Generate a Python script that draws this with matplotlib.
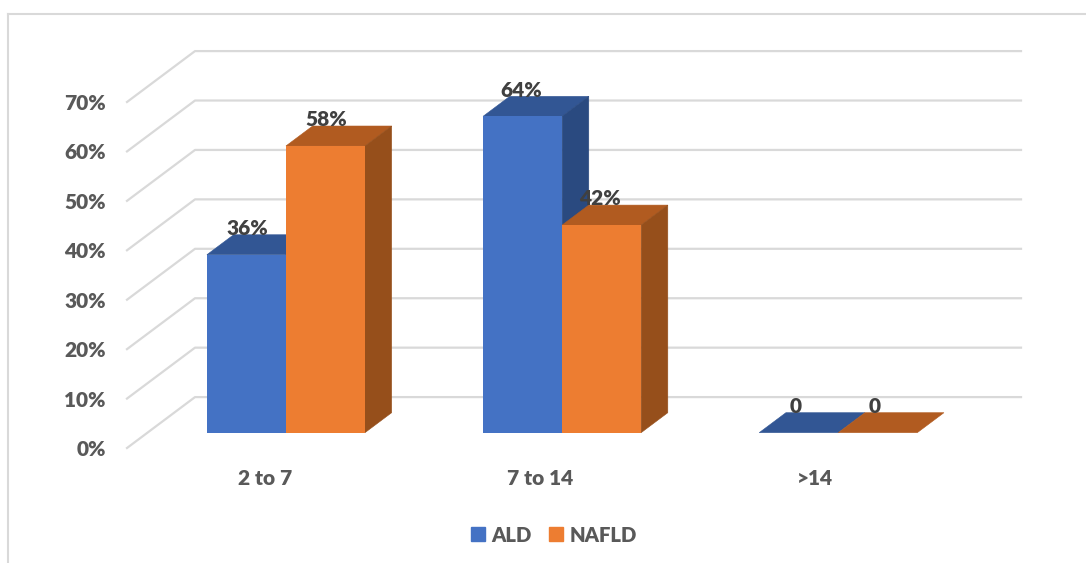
import matplotlib
matplotlib.use("Agg")
import matplotlib.pyplot as plt
from matplotlib.lines import Line2D
from matplotlib.patches import Patch, Polygon

# Chart values (percent of patients per group)
categories = ["2 to 7", "7 to 14", ">14"]
ald_values = [36, 64, 0]
nafld_values = [58, 42, 0]
y_ticks = [0, 10, 20, 30, 40, 50, 60, 70]

W, H = 1086, 563
plt.rcParams["font.family"] = ["Lato", "DejaVu Sans"]
plt.rcParams["font.weight"] = "heavy"

GRID = "#D9D9D9"
ALD_FACE, ALD_TOP, ALD_SIDE = "#4472C4", "#325694", "#2A4A80"
NAFLD_FACE, NAFLD_TOP, NAFLD_SIDE = "#ED7D31", "#B15B20", "#964F1B"

fig = plt.figure(figsize=(W / 100, H / 100), dpi=100, facecolor="white")

# Front plane of the oblique 3D box
ax = fig.add_axes([127 / W, (H - 448) / H, (953 - 127) / W, (448 - 102) / H])
ax.set_xlim(-0.5, 2.5)
ax.set_ylim(0, 70)
ax.patch.set_alpha(0)
for spine in ax.spines.values():
    spine.set_visible(False)

# Oblique projection: how far the back wall sits from the front plane, in data units
wall_dx, wall_dy = 0.247, 10.3
bar_start = 0.313   # fraction of the box depth in front of each bar
bar_depth = 0.392   # fraction of the box depth taken up by each bar
bar_width = 0.287
group_step = 1.003  # spacing of the bar groups along the category axis
label_step = 0.996  # spacing of the value labels along the category axis

# Chart-area border (top and left edges only)
for xs, ys in [((8, W), (14, 14)), ((8, 8), (14, H))]:
    fig.add_artist(Line2D([x / W for x in xs], [1 - y / H for y in ys],
                          color=GRID, lw=1.5))

# Gridlines: a slanted stretch on the side wall, then along the back wall
for t in y_ticks:
    ax.plot([-0.5, -0.5 + wall_dx, 2.5 + wall_dx], [t, t + wall_dy, t + wall_dy],
            color=GRID, lw=1.6, clip_on=False, zorder=1, solid_joinstyle="round")

ox, oy = wall_dx * bar_start, wall_dy * bar_start - 0.12
dx, dy = wall_dx * bar_depth, wall_dy * bar_depth


def draw_bar(left, label_left, value, face, top, side, z):
    x0, x1 = left + ox, left + ox + bar_width
    y0, y1 = oy, oy + value
    ax.add_patch(Polygon([(x0, y1), (x1, y1), (x1 + dx, y1 + dy), (x0 + dx, y1 + dy)],
                         fc=top, ec=top, lw=0.4, zorder=z, clip_on=False))
    if value > 0:
        ax.add_patch(Polygon([(x1, y0), (x1 + dx, y0 + dy), (x1 + dx, y1 + dy), (x1, y1)],
                             fc=side, ec=side, lw=0.4, zorder=z, clip_on=False))
        ax.bar(x0, value, width=bar_width, bottom=y0, align="edge", color=face,
               linewidth=0, zorder=z + 0.5, clip_on=False)
    label = f"{value}%" if value else "0"
    ax.text(label_left + ox + bar_width / 2 + 0.002, y1 + 5.3, label, ha="center", va="center",
            fontsize=15, color="#404040", zorder=50, clip_on=False)


for i in range(len(categories)):
    base = i * group_step
    label_base = i * label_step
    draw_bar(base - bar_width, label_base - bar_width, ald_values[i],
             ALD_FACE, ALD_TOP, ALD_SIDE, 3 + i * 4)
    draw_bar(base, label_base, nafld_values[i],
             NAFLD_FACE, NAFLD_TOP, NAFLD_SIDE, 5 + i * 4)

ax.set_yticks(y_ticks)
ax.set_yticklabels([f"{t}%" for t in y_ticks])
ax.set_xticks(range(len(categories)))
ax.set_xticklabels(categories)
ax.tick_params(axis="y", length=0, pad=15.3, labelsize=15, labelcolor="#595959")
ax.tick_params(axis="x", length=0, pad=15, labelsize=15, labelcolor="#595959")

handles = [Patch(color=ALD_FACE, label="ALD"), Patch(color=NAFLD_FACE, label="NAFLD")]
fig.legend(handles=handles, loc="center", bbox_to_anchor=(554 / W, 1 - 535 / H), ncol=2,
           frameon=False, fontsize=14.6, labelcolor="#595959", handlelength=0.69,
           handleheight=0.69, handletextpad=0.29, columnspacing=0.87, borderpad=0)

fig.savefig("out.png", dpi=100)
